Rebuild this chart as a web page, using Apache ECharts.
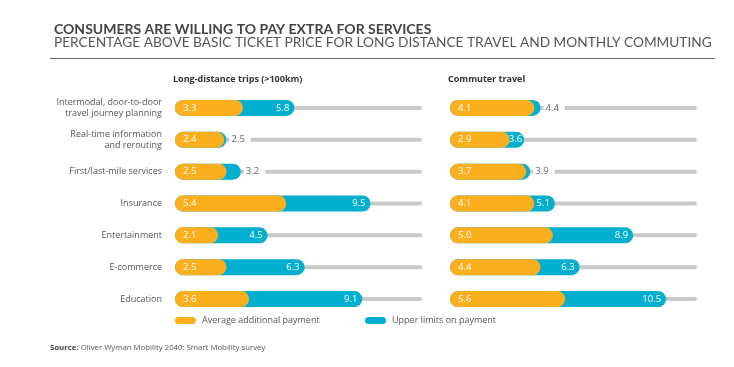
<!DOCTYPE html>
<html>
<head>
<meta charset="utf-8">
<style>
  html, body { margin: 0; padding: 0; background: #fff; }
  #chart { width: 734px; height: 367px; }
</style>
<script src="https://cdn.jsdelivr.net/npm/echarts@6/dist/echarts.min.js"></script>
</head>
<body>
<div id="chart"></div>
<script>
// ---- data ----
const categories = [
  'Intermodal, door-to-door\ntravel journey planning',
  'Real-time information\nand rerouting',
  'First/last-mile services',
  'Insurance',
  'Entertainment',
  'E-commerce',
  'Education'
];
const longAvg   = [3.3, 2.4, 2.5, 5.4, 2.1, 2.5, 3.6];
const longUpper = [5.8, 2.5, 3.2, 9.5, 4.5, 6.3, 9.1];
const commAvg   = [4.1, 2.9, 3.7, 4.1, 5.0, 4.4, 5.6];
const commUpper = [4.4, 3.6, 3.9, 5.1, 8.9, 6.3, 10.5];
const scaleMax = 12;
// rows whose upper-limit label sits outside the bar
const longOutside = [1, 2];
const commOutside = [0, 2];

const ORANGE = '#FBAF1D';
const BLUE = '#03AFD1';
const TRACK = '#C9C9C9';
const TXT = '#555';
const FONT = "'Open Sans', 'Noto Sans', sans-serif";

const fmt = p => Number(p.value).toFixed(1);

const outsideLabel = {
  position: 'right', distance: 3, color: '#666',
  backgroundColor: '#fff', padding: [1, 6, 1, 2]
};

function upperData(vals, avg, outside) {
  return vals.map((v, i) => {
    if (outside.includes(i)) return { value: v, label: outsideLabel };
    if (v - avg[i] < 0.8) return { value: v, label: { distance: 2 } };
    return v;
  });
}

function panelSeries(avg, upper, outside, xi, yi, yti) {
  return [
    {
      name: 'track' + xi, type: 'bar', xAxisIndex: xi, yAxisIndex: yti,
      data: categories.map(() => scaleMax), barWidth: 4, silent: true, z: 1,
      itemStyle: { color: TRACK, borderRadius: 2 }
    },
    {
      name: 'Upper limits on payment', type: 'bar', xAxisIndex: xi, yAxisIndex: yi,
      data: upperData(upper, avg, outside), barWidth: 16, barGap: '-100%', z: 2,
      itemStyle: { color: BLUE, borderRadius: 8 },
      label: { show: true, position: 'insideRight', distance: 5, color: '#fff',
               fontFamily: FONT, fontSize: 9.5, formatter: fmt }
    },
    {
      name: 'Average additional payment', type: 'bar', xAxisIndex: xi, yAxisIndex: yi,
      data: avg, barWidth: 16, barGap: '-100%', z: 2,
      itemStyle: { color: ORANGE, borderRadius: 8 },
      label: { show: true, position: 'insideLeft', distance: 8, color: '#fff',
               fontFamily: FONT, fontSize: 9.5, formatter: fmt }
    }
  ];
}

const gridTop = 92, gridH = 223, gridW = 247;
const grids = [
  { left: 175, top: gridTop, width: gridW, height: gridH },
  { left: 450, top: gridTop, width: gridW, height: gridH }
];

const xAxes = [0, 1].map(g => ({
  type: 'value', gridIndex: g, min: 0, max: scaleMax, show: false
}));

function catAxis(g, showLabels, hidden) {
  return {
    type: 'category', gridIndex: g, data: categories, inverse: true,
    show: !hidden,
    axisLine: { show: false }, axisTick: { show: false }, splitLine: { show: false },
    axisLabel: {
      show: showLabels, margin: 13, color: TXT, fontFamily: FONT, fontSize: 9,
      lineHeight: 10.5, align: 'right'
    }
  };
}
const yAxes = [catAxis(0, true, false), catAxis(0, false, true), catAxis(1, false, false), catAxis(1, false, true)];

const pill = 'path://M3.5,0 H17.5 A3.5,3.5 0 0 1 17.5,7 H3.5 A3.5,3.5 0 0 1 3.5,0 Z';
const legendBase = {
  top: 315, padding: 0, itemWidth: 21, itemHeight: 7, itemGap: 10, icon: pill,
  textStyle: { color: TXT, fontFamily: FONT, fontSize: 9, padding: [0, 0, 0, 1] },
  selectedMode: false
};

const chart = echarts.init(document.getElementById('chart'), null, { renderer: 'canvas' });
chart.setOption({
  animation: false,
  backgroundColor: '#fff',
  title: [
    { text: 'CONSUMERS ARE WILLING TO PAY EXTRA FOR SERVICES', left: 49, top: 17,
      textStyle: { fontFamily: "Lato, 'Liberation Sans', sans-serif", fontWeight: 'bold', fontSize: 14, color: '#444' } },
    { text: 'PERCENTAGE ABOVE BASIC TICKET PRICE FOR LONG DISTANCE TRAVEL AND MONTHLY COMMUTING', left: 49, top: 31,
      textStyle: { fontFamily: "Lato, 'Liberation Sans', sans-serif", fontWeight: 'normal', fontSize: 13.7, color: '#555' } }
  ],
  graphic: [
    { type: 'line', shape: { x1: 50, y1: 58.5, x2: 715, y2: 58.5 }, style: { stroke: '#666', lineWidth: 1.2 } },
    { type: 'text', left: 173, top: 75, style: { text: 'Long-distance trips (>100km)', fill: '#333',
      font: "bold 9px 'Open Sans', sans-serif" } },
    { type: 'text', left: 448, top: 75, style: { text: 'Commuter travel', fill: '#333',
      font: "bold 9px 'Open Sans', sans-serif" } },
    { type: 'text', left: 50, top: 344, style: {
      text: '{b|Source:} Oliver Wyman Mobility 2040: Smart Mobility survey',
      fill: TXT, font: "7.8px 'Open Sans', sans-serif",
      rich: { b: { fontWeight: 'bold', fontSize: 7.8, fontFamily: FONT, fill: '#444' } } } }
  ],
  legend: [
    Object.assign({}, legendBase, { left: 175, top: 316, data: ['Average additional payment'] }),
    Object.assign({}, legendBase, { left: 365, top: 316, data: ['Upper limits on payment'] })
  ],
  grid: grids,
  xAxis: xAxes,
  yAxis: yAxes,
  series: [
    ...panelSeries(longAvg, longUpper, longOutside, 0, 0, 1),
    ...panelSeries(commAvg, commUpper, commOutside, 1, 2, 3)
  ]
});
</script>
</body>
</html>
